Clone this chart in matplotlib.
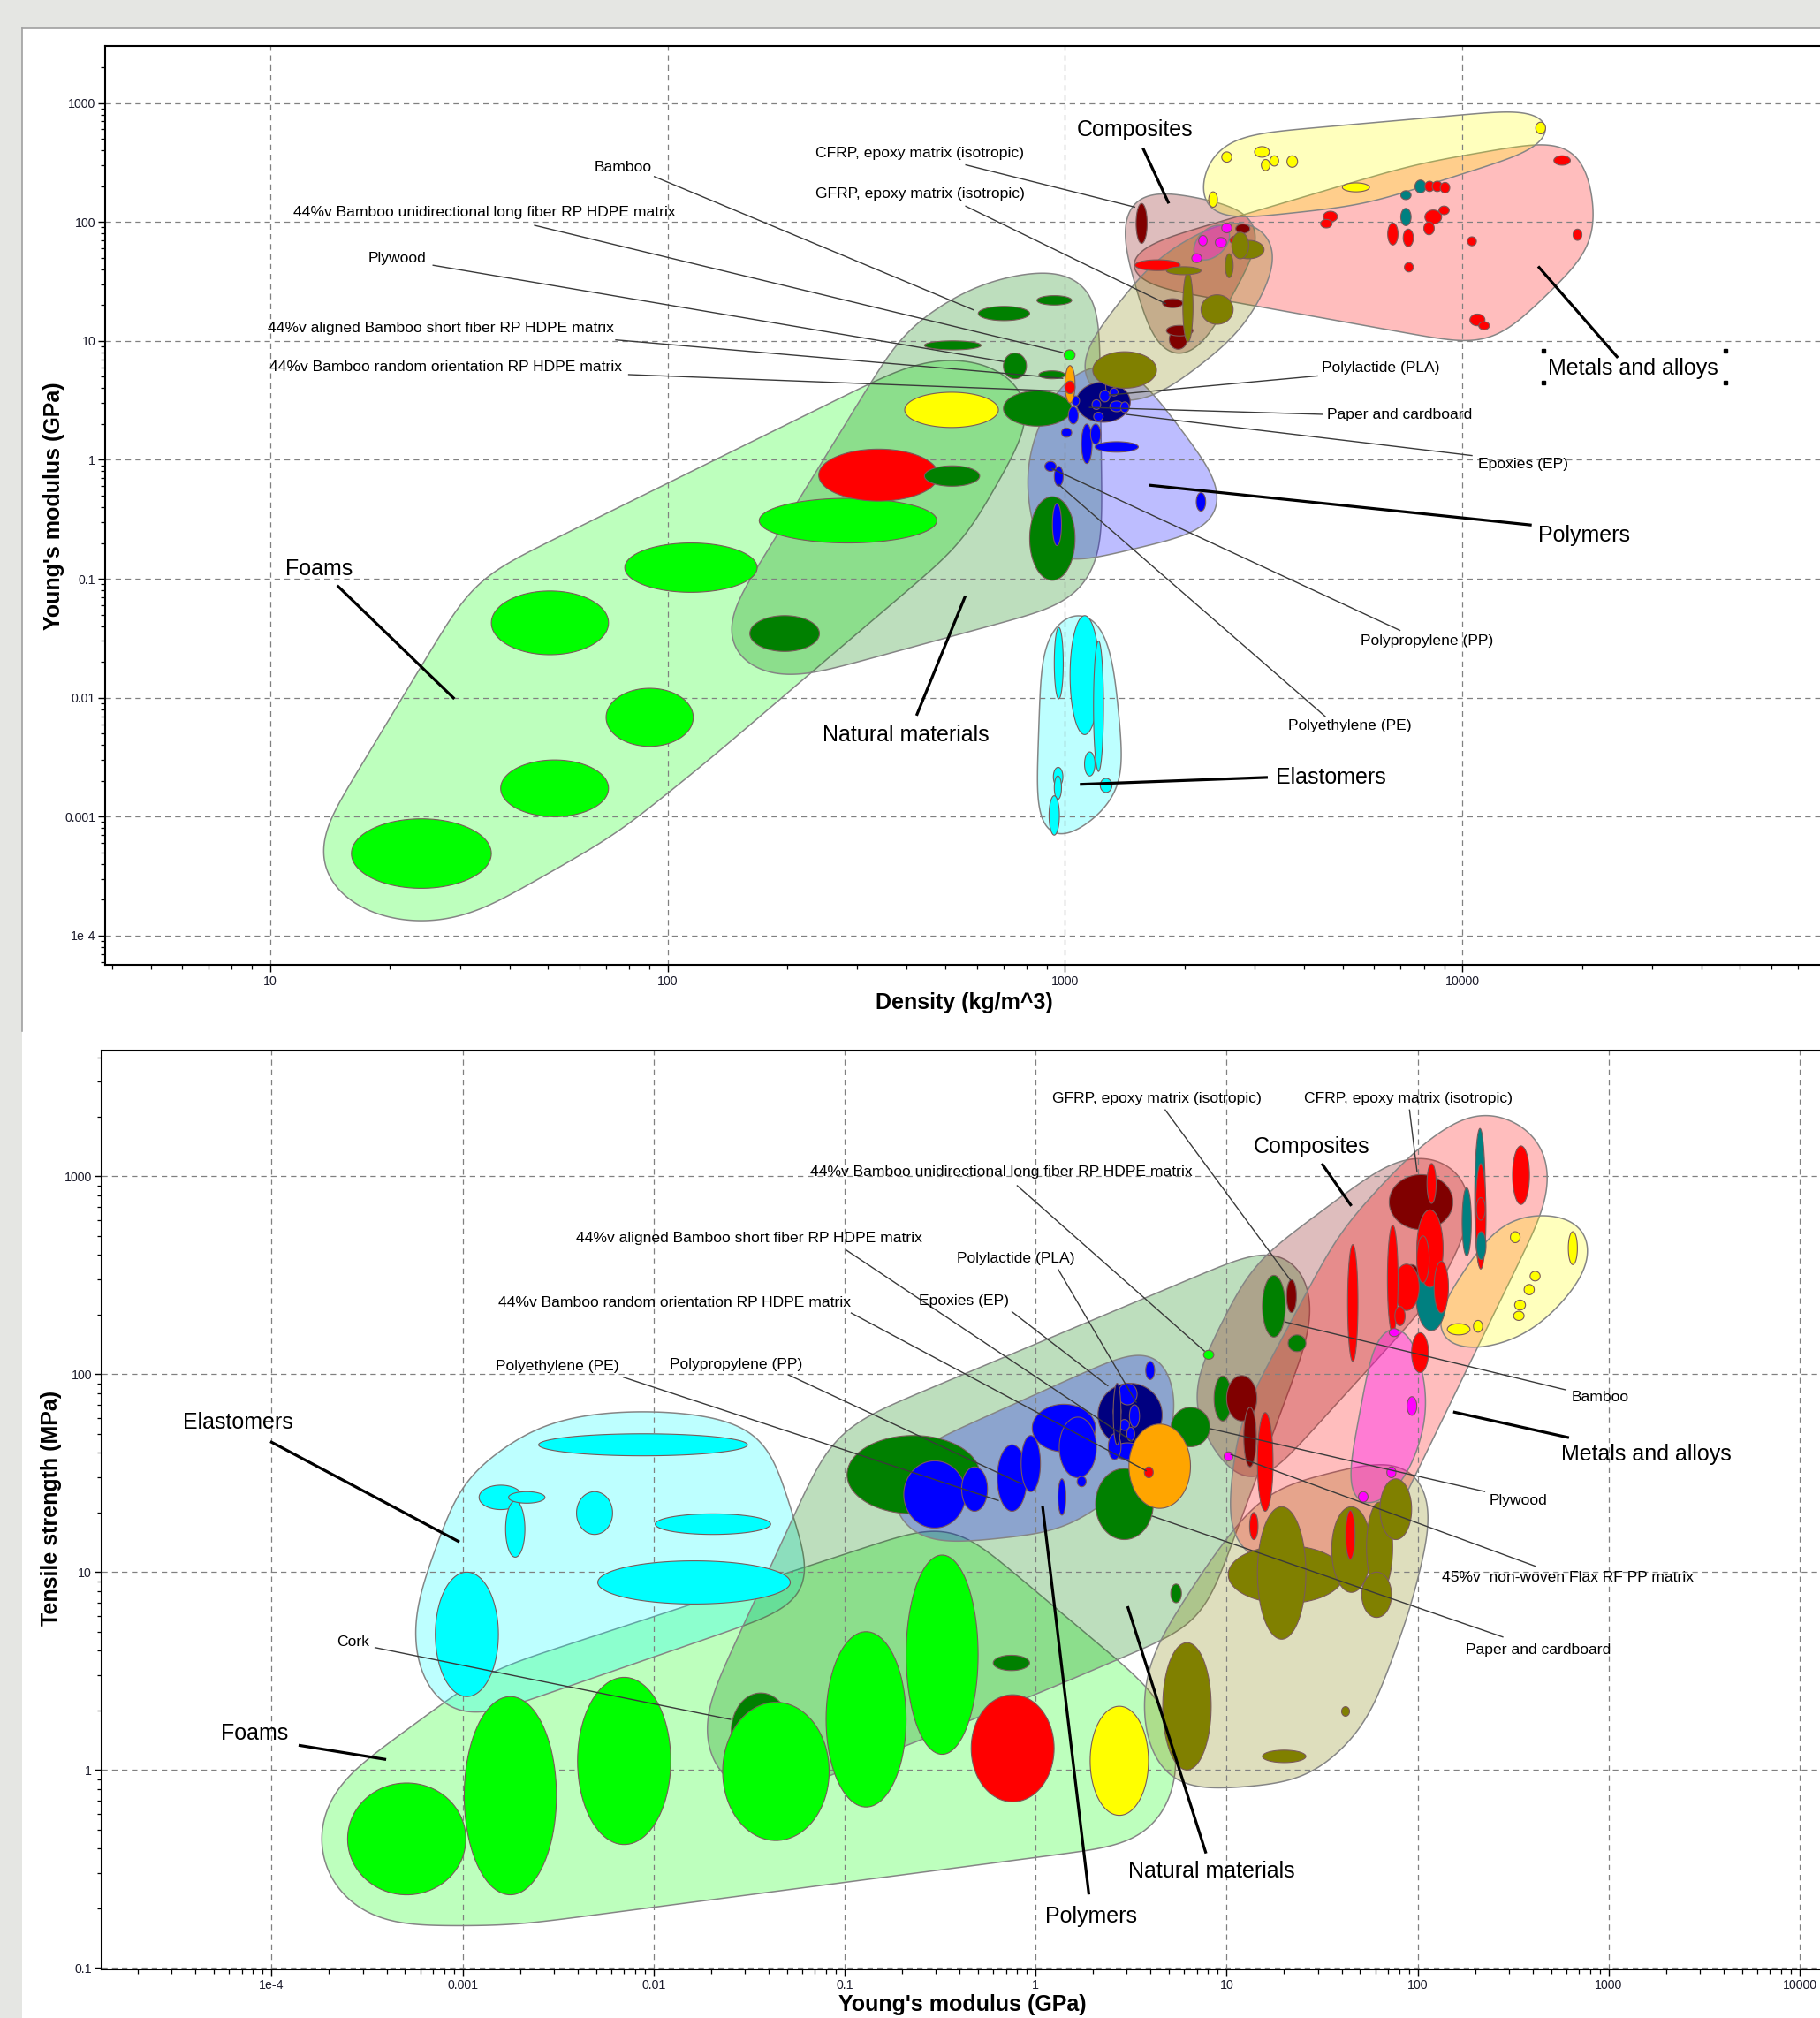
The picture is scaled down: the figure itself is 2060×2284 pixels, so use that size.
import numpy as np
import matplotlib.pyplot as plt
from matplotlib.lines import Line2D
from matplotlib.patches import Rectangle
from matplotlib.colors import to_rgba
from matplotlib.ticker import LogLocator, NullFormatter

plt.rcParams['font.family'] = ['Liberation Sans', 'DejaVu Sans']

# bubbles: (x_lo, x_hi, y_lo, y_hi, kind)
# ---------------- top chart: Young's modulus (GPa) vs density (kg/m^3)
TOP_FOAMS = [
    (16, 36, 2.5e-4, 9.6e-4, 'foam'),
    (38, 71, 1.0e-3, 3.0e-3, 'foam'),
    (70, 116, 3.9e-3, 0.012, 'foam'),
    (36, 71, 0.023, 0.079, 'foam'),
    (78, 168, 0.077, 0.20, 'foam'),
    (170, 476, 0.20, 0.475, 'foam'),
    (240, 480, 0.45, 1.23, 'metal'),
    (395, 680, 1.87, 3.7, 'ceramic'),
]
TOP_NATURAL = [
    (161, 241, 0.0245, 0.049, 'natural'),
    (443, 610, 0.60, 0.89, 'natural'),
    (605, 815, 14.8, 19.5, 'natural'),
    (850, 1040, 20, 24, 'natural'),
    (443, 615, 8.4, 10, 'natural'),
    (860, 1000, 4.8, 5.6, 'natural'),
    (700, 800, 4.8, 7.9, 'natural'),
    (700, 1040, 1.92, 3.8, 'natural'),
    (815, 1060, 0.097, 0.49, 'natural'),
]
TOP_ELASTOMERS = [
    (1030, 1220, 0.0049, 0.049, 'elastomer'),
    (940, 990, 0.0098, 0.039, 'elastomer'),
    (1180, 1250, 0.0024, 0.030, 'elastomer'),
    (1120, 1190, 0.0022, 0.0035, 'elastomer'),
    (1227, 1313, 0.0016, 0.0021, 'elastomer'),
    (935, 988, 0.0018, 0.0026, 'elastomer'),
    (940, 980, 0.0014, 0.0022, 'elastomer'),
    (912, 968, 7.0e-4, 0.0015, 'elastomer'),
]
TOP_POLYMERS = [
    (1067, 1460, 2.07, 4.5, 'epoxy'),
    (1020, 1080, 2.0, 2.8, 'polymer'),
    (1041, 1088, 2.85, 3.44, 'polymer'),
    (980, 1040, 1.55, 1.85, 'polymer'),
    (1100, 1170, 0.93, 2.0, 'polymer'),
    (1160, 1230, 1.35, 2.0, 'polymer'),
    (1190, 1530, 1.16, 1.42, 'polymer'),
    (890, 950, 0.80, 0.97, 'polymer'),
    (940, 990, 0.60, 0.88, 'polymer'),
    (930, 980, 0.19, 0.43, 'polymer'),
    (2140, 2260, 0.37, 0.53, 'polymer'),
    (1266, 1327, 3.53, 4.84, 'epoxy'),
    (1223, 1297, 3.07, 3.85, 'polymer'),
    (1297, 1360, 3.44, 4.0, 'polymer'),
    (1297, 1403, 2.54, 3.12, 'polymer'),
    (1380, 1450, 2.5, 3.07, 'polymer'),
    (1181, 1248, 2.12, 2.51, 'polymer'),
    (1170, 1230, 2.65, 3.2, 'polymer'),
]
TOP_METALS = [
    (1500, 1950, 39, 48, 'metal'),
    (2600, 2880, 64, 77, 'metal'),
    (17000, 18700, 300, 360, 'metal'),
    (19000, 20000, 70, 87, 'metal'),
    (10300, 10850, 63, 75, 'metal'),
    (7150, 7530, 38, 45.5, 'metal'),
    (6490, 6890, 64, 98, 'metal'),
    (7100, 7530, 62, 87, 'metal'),
    (4470, 4850, 100, 123, 'metal'),
    (4400, 4700, 89, 105, 'metal'),
    (8050, 8870, 96, 126, 'metal'),
    (8000, 8500, 78, 100, 'metal'),
    (8730, 9270, 115, 136, 'metal'),
    (7600, 8100, 175, 225, 'copper'),
    (8050, 8500, 180, 220, 'metal'),
    (8400, 8900, 180, 220, 'metal'),
    (8800, 9300, 175, 215, 'metal'),
    (7000, 7430, 154, 183, 'copper'),
    (7000, 7430, 93, 130, 'copper'),
    (10450, 11400, 13.4, 16.8, 'metal'),
    (11000, 11700, 12.4, 14.5, 'metal'),
]
TOP_COMPOSITES = [
    (1510, 1610, 66, 143, 'composite'),
    (1760, 1980, 19, 22.6, 'composite'),
    (1830, 2030, 8.5, 12.5, 'composite'),
    (1800, 2100, 11, 13.5, 'composite'),
    (2690, 2920, 80, 96, 'composite'),
]
TOP_FIBRES = [
    (1175, 1700, 4.0, 8.1, 'fibre'),
    (2200, 2650, 13.8, 24.4, 'fibre'),
    (2650, 3170, 49, 70, 'fibre'),
    (2630, 2900, 49, 82, 'fibre'),
    (2530, 2650, 34, 54, 'fibre'),
    (1980, 2100, 9.8, 38, 'fibre'),
    (1800, 2200, 36, 42, 'fibre'),
]
TOP_CERAMICS = [
    (2480, 2630, 318, 388, 'ceramic'),
    (3000, 3270, 350, 430, 'ceramic'),
    (3120, 3280, 270, 335, 'ceramic'),
    (3280, 3450, 295, 360, 'ceramic'),
    (3620, 3850, 288, 360, 'ceramic'),
    (15300, 16200, 550, 690, 'ceramic'),
    (4990, 5840, 179, 213, 'ceramic'),
    (2300, 2420, 133, 179, 'ceramic'),
]
TOP_GLASS = [
    (2170, 2280, 63, 77, 'glass'),
    (2390, 2550, 61, 74, 'glass'),
    (2480, 2630, 81, 98, 'glass'),
    (2085, 2210, 45.5, 54, 'glass'),
]
TOP_BAMBOO = [
    (995, 1060, 6.9, 8.4, 'bamboo_uni'),
    (1000, 1060, 3.0, 6.2, 'bamboo_short'),
    (1000, 1060, 3.6, 4.6, 'bamboo_rand'),
]

# ---------------- bottom chart: tensile strength (MPa) vs Young's modulus (GPa)
BOT_FOAMS = [
    (2.5e-4, 1.04e-3, 0.234, 0.86, 'foam'),
    (1.02e-3, 3.1e-3, 0.234, 2.35, 'foam'),
    (4.0e-3, 0.0123, 0.42, 2.94, 'foam'),
    (0.0255, 0.052, 1.0, 2.45, 'natural'),
    (0.023, 0.083, 0.44, 2.2, 'foam'),
    (0.08, 0.21, 0.65, 5.0, 'foam'),
    (0.21, 0.50, 1.2, 12.2, 'foam'),
    (0.46, 1.25, 0.69, 2.4, 'metal'),
    (1.93, 3.9, 0.59, 2.1, 'ceramic'),
]
BOT_ELASTOMERS = [
    (2.5e-3, 0.031, 38.7, 50, 'elastomer'),
    (1.22e-3, 2.06e-3, 20.7, 27.5, 'elastomer'),
    (1.68e-3, 2.12e-3, 11.9, 22.9, 'elastomer'),
    (1.74e-3, 2.7e-3, 22.3, 25.5, 'elastomer'),
    (3.95e-3, 6.1e-3, 15.5, 25.5, 'elastomer'),
    (0.0102, 0.041, 15.5, 19.7, 'elastomer'),
    (5.1e-3, 0.052, 6.9, 11.4, 'elastomer'),
    (7.2e-4, 1.54e-3, 2.35, 10, 'elastomer'),
]
BOT_NATURAL = [
    (0.0255, 0.052, 1.0, 2.45, 'natural'),
    (0.103, 0.51, 19.7, 49, 'natural'),
    (2.06, 4.13, 14.6, 33.4, 'natural'),
    (5.13, 8.17, 43, 68, 'natural'),
    (0.60, 0.93, 3.18, 3.8, 'natural'),
    (5.1, 5.8, 7.0, 8.7, 'natural'),
    (8.6, 10.6, 58, 98, 'natural'),
    (15.4, 20.3, 154, 316, 'natural'),
]
BOT_POLYMERS = [
    (2.12, 4.6, 43, 90, 'epoxy'),
    (0.204, 0.43, 16.7, 36.5, 'polymer'),
    (0.41, 0.56, 20.3, 34, 'polymer'),
    (0.63, 0.90, 20.3, 44, 'polymer'),
    (0.84, 1.06, 25.5, 49, 'polymer'),
    (0.96, 2.06, 40.5, 70.5, 'polymer'),
    (1.33, 2.08, 30, 60.7, 'polymer'),
    (1.31, 1.44, 19.4, 29.6, 'polymer'),
    (1.65, 1.84, 27, 30.5, 'polymer'),
    (3.77, 4.2, 94, 116, 'polymer'),
    (2.7, 3.4, 70, 90, 'polymer'),
    (2.55, 2.8, 60, 70, 'polymer'),
    (3.1, 3.5, 54, 70, 'polymer'),
    (2.75, 3.1, 52, 59, 'polymer'),
    (2.55, 3.6, 37, 45, 'polymer'),
    (2.4, 2.8, 37, 50, 'polymer'),
    (3.0, 3.3, 46, 54, 'polymer'),
    (2.55, 2.8, 44, 90, 'epoxy'),
]
BOT_FIBRES = [
    (10.2, 41, 6.95, 13.6, 'fibre'),
    (14.5, 26, 4.58, 21.4, 'fibre'),
    (35.5, 57, 7.9, 21.4, 'fibre'),
    (54, 74, 7.9, 22.6, 'fibre'),
    (63.5, 93, 14.6, 29.6, 'fibre'),
    (51, 73, 5.9, 10, 'fibre'),
    (4.63, 8.3, 1.0, 4.4, 'fibre'),
    (40, 44, 1.87, 2.09, 'fibre'),
    (15.4, 26, 1.09, 1.26, 'fibre'),
]
BOT_COMPOSITES = [
    (71, 153, 538, 1020, 'composite'),
    (84, 102, 284, 358, 'composite'),
    (10, 14.4, 58, 98.5, 'composite'),
    (8.6, 10.6, 58, 98, 'natural'),
    (12.3, 14.3, 34, 68, 'composite'),
    (15.4, 20.3, 154, 316, 'natural'),
    (20.6, 23.2, 205, 300, 'composite'),
    (21, 26, 130, 158, 'natural'),
]
BOT_METALS = [
    (98, 142, 166, 378, 'copper'),
    (112, 125, 730, 1160, 'metal'),
    (99, 136, 275, 677, 'metal'),
    (99, 115, 290, 500, 'metal'),
    (122, 145, 204, 372, 'metal'),
    (75, 102, 210, 360, 'metal'),
    (69.5, 79, 161, 566, 'metal'),
    (76, 86, 176, 220, 'metal'),
    (43, 48.7, 116, 452, 'metal'),
    (14.5, 17.5, 20.3, 64, 'metal'),
    (13.2, 14.6, 14.6, 20, 'metal'),
    (42, 47, 11.6, 20.5, 'metal'),
    (93, 114, 102, 162, 'metal'),
    (199, 226, 349, 1746, 'copper'),
    (171, 191, 396, 875, 'copper'),
    (201, 228, 340, 1160, 'metal'),
    (203, 226, 600, 780, 'metal'),
    (203, 228, 380, 525, 'copper'),
    (314, 385, 721, 1425, 'metal'),
]
BOT_CERAMICS = [
    (306, 344, 462, 525, 'ceramic'),
    (615, 686, 358, 525, 'ceramic'),
    (388, 438, 296, 331, 'ceramic'),
    (361, 408, 252, 284, 'ceramic'),
    (322, 367, 211, 237, 'ceramic'),
    (318, 361, 187, 208, 'ceramic'),
    (196, 219, 163, 187, 'ceramic'),
    (143, 188, 158, 180, 'ceramic'),
]
BOT_GLASS = [
    (71, 80, 155, 170, 'glass'),
    (88, 99, 62, 77, 'glass'),
    (69, 77, 30, 34, 'glass'),
    (49, 55, 22.6, 25.5, 'glass'),
]
BOT_BAMBOO = [
    (7.57, 8.57, 119, 132, 'bamboo_uni'),
    (3.08, 6.47, 21, 56, 'bamboo_short'),
    (3.71, 4.13, 30, 34, 'bamboo_rand'),
    (9.7, 10.8, 36.5, 40.5, 'flax'),
]

# tick values / labels
TOP_XTICKS = [10, 100, 1000, 10000]
TOP_XLABELS = ['10', '100', '1000', '10000']
TOP_YTICKS = [1e-4, 1e-3, 0.01, 0.1, 1, 10, 100, 1000]
TOP_YLABELS = ['1e-4', '0.001', '0.01', '0.1', '1', '10', '100', '1000']
BOT_XTICKS = [1e-4, 1e-3, 0.01, 0.1, 1, 10, 100, 1000, 10000]
BOT_XLABELS = ['1e-4', '0.001', '0.01', '0.1', '1', '10', '100', '1000', '10000']
BOT_YTICKS = [0.1, 1, 10, 100, 1000]
BOT_YLABELS = ['0.1', '1', '10', '100', '1000']

# labels: text, text anchor, alignment, leader start, leader end, big label?
TOP_NOTES = [
    ('Bamboo', (77.2, 288), 'center', (92.3, 241.6), (591, 18.1), False),
    ('44%v Bamboo unidirectional long fiber RP HDPE matrix', (34.5, 120), 'center', (46.1, 93.8), (990, 7.96), False),
    ('Plywood', (20.9, 49.1), 'center', (25.6, 43.3), (702, 6.69), False),
    ('44%v aligned Bamboo short fiber RP HDPE matrix', (26.8, 12.8), 'center', (73.8, 10.2), (990, 4.84), False),
    ('44%v Bamboo random orientation RP HDPE matrix', (27.6, 6.06), 'center', (79.5, 5.21), (1005, 3.77), False),
    ('CFRP, epoxy matrix (isotropic)', (432, 378.5), 'center', (561, 302.6), (1503, 133), False),
    ('GFRP, epoxy matrix (isotropic)', (432, 170.6), 'center', (561, 136.3), (1797, 20.5), False),
    ('Composites', (1503, 593), 'center', (1571, 418), (1825, 143), True),
    ('Metals and alloys', (26950, 5.91), 'center', (24640, 7.21), (15520, 42.3), True),
    ('Polylactide (PLA)', (4433, 5.91), 'left', (4334, 5.08), (1285, 3.5), False),
    ('Paper and cardboard', (4566, 2.41), 'left', (4466, 2.41), (1149, 2.76), False),
    ('Epoxies (EP)', (10930, 0.912), 'left', (10610, 1.085), (1427, 2.41), False),
    ('Polymers', (15520, 0.2317), 'left', (14950, 0.2828), (1631, 0.612), True),
    ('Polypropylene (PP)', (8170, 0.03004), 'center', (6987, 0.03666), (925.4, 0.846), False),
    ('Polyethylene (PE)', (5222, 0.0058), 'center', (4532, 0.0069), (960.5, 0.627), False),
    ('Elastomers', (3388, 0.00214), 'left', (3239, 0.00214), (1090, 0.00187), True),
    ('Natural materials', (398.4, 0.00487), 'center', (423, 0.00708), (561.4, 0.0718), True),
    ('Foams', (13.28, 0.1212), 'center', (14.74, 0.0877), (29.06, 0.00979), True),
]
BOT_NOTES = [
    ('GFRP, epoxy matrix (isotropic)', (4.33, 2455), 'center', (4.75, 2178), (21.7, 297), False),
    ('CFRP, epoxy matrix (isotropic)', (89.2, 2455), 'center', (90.6, 2178), (99.4, 1046), False),
    ('Composites', (27.8, 1411), 'center', (31.5, 1161), (45.0, 708.7), True),
    ('44%v Bamboo unidirectional long fiber RP HDPE matrix', (0.662, 1046), 'center', (0.797, 900.7), (7.68, 130.5), False),
    ('44%v aligned Bamboo short fiber RP HDPE matrix', (0.0316, 487), 'center', (0.1012, 426), (3.22, 45.7), False),
    ('Polylactide (PLA)', (0.785, 383.5), 'center', (1.31, 340), (3.375, 71.7), False),
    ('44%v Bamboo random orientation RP HDPE matrix', (0.01286, 230.5), 'center', (0.1077, 204.5), (3.82, 32.4), False),
    ('Epoxies (EP)', (0.4219, 233.9), 'center', (0.749, 207.5), (2.4, 87.1), False),
    ('Polyethylene (PE)', (3.13e-3, 109), 'center', (6.91e-3, 96.7), (0.642, 22.96), False),
    ('Polypropylene (PP)', (0.0271, 112.3), 'center', (0.0504, 99.6), (0.848, 27.9), False),
    ('Bamboo', (639.7, 76.1), 'left', (601, 83.2), (20.1, 184), False),
    ('Metals and alloys', (565, 39.4), 'left', (620, 47.8), (153.5, 64.5), True),
    ('Plywood', (237, 22.96), 'left', (226, 25.5), (8.17, 53.1), False),
    ('45%v  non-woven Flax RF PP matrix', (133.5, 9.35), 'left', (414.3, 10.7), (10.47, 39.4), False),
    ('Paper and cardboard', (179.2, 4.04), 'left', (281.1, 4.69), (4.07, 19.2), False),
    ('Natural materials', (8.3, 0.3075), 'center', (7.8, 0.379), (3.03, 6.72), True),
    ('Polymers', (1.96, 0.182), 'center', (1.901, 0.2348), (1.087, 21.6), True),
    ('Elastomers', (6.68e-5, 57.3), 'center', (9.85e-5, 45.7), (9.63e-4, 14.2), True),
    ('Foams', (8.18e-5, 1.527), 'center', (1.385e-4, 1.334), (3.98e-4, 1.13), True),
    ('Cork', (2.66e-4, 4.42), 'center', (3.46e-4, 4.16), (0.02544, 1.8), False),
]

# styles
KIND_COLORS = {
    'foam': '#00ff00', 'natural': '#008000', 'elastomer': '#00ffff',
    'polymer': '#0000ff', 'epoxy': '#000080', 'metal': '#ff0000',
    'copper': '#008080', 'composite': '#800000', 'fibre': '#808000',
    'ceramic': '#ffff00', 'glass': '#ff00ff', 'bamboo_uni': '#00ff00',
    'bamboo_short': '#ffa500', 'bamboo_rand': '#ff0000', 'flax': '#ff00ff',
}
ENV_COLORS = {
    'foams': '#00ff00', 'natural': '#008000', 'elastomers': '#00ffff',
    'polymers': '#0000ff', 'metals': '#ff0000', 'composites': '#800000',
    'fibres': '#808000', 'ceramics': '#ffff00', 'glass': '#ff00ff',
}
ENV_ALPHA = {'glass': 0.34}
TOP_PADS = {'foams': 40, 'natural': 31, 'elastomers': 15, 'polymers': 24,
            'metals': 19, 'composites': 19, 'fibres': 21, 'ceramics': 16, 'glass': 12}
BOT_PADS = {'foams': 35, 'natural': 33, 'elastomers': 26, 'polymers': 19,
            'metals': 26, 'composites': 26, 'fibres': 24, 'ceramics': 21, 'glass': 16}


def ellipse_px(ax, b, pad=0.0, n=90):
    (x0, y0), (x1, y1) = ax.transData.transform([(b[0], b[2]), (b[1], b[3])])
    cx, cy = (x0 + x1) / 2, (y0 + y1) / 2
    rx, ry = abs(x1 - x0) / 2 + pad, abs(y1 - y0) / 2 + pad
    t = np.linspace(0, 2 * np.pi, n, endpoint=False)
    return np.column_stack([cx + rx * np.cos(t), cy + ry * np.sin(t)])


def to_data(ax, pts):
    d = ax.transData.inverted().transform(pts)
    return d[:, 0], d[:, 1]


def convex_hull(pts):
    p = sorted(map(tuple, pts))

    def cross(o, a, b):
        return (a[0] - o[0]) * (b[1] - o[1]) - (a[1] - o[1]) * (b[0] - o[0])
    lower, upper = [], []
    for q in p:
        while len(lower) >= 2 and cross(lower[-2], lower[-1], q) <= 0:
            lower.pop()
        lower.append(q)
    for q in reversed(p):
        while len(upper) >= 2 and cross(upper[-2], upper[-1], q) <= 0:
            upper.pop()
        upper.append(q)
    return np.array(lower[:-1] + upper[:-1])


def smooth_closed(poly, step=2.0, sigma=34.0):
    # resample the outline evenly and blur it so hull corners become round
    pts = np.vstack([poly, poly[:1]])
    seg = np.hypot(*np.diff(pts, axis=0).T)
    s = np.concatenate([[0], np.cumsum(seg)])
    n = max(int(s[-1] / step), 16)
    u = np.linspace(0, s[-1], n, endpoint=False)
    x = np.interp(u, s, pts[:, 0])
    y = np.interp(u, s, pts[:, 1])
    k = min(int(3 * sigma / step), n // 2 - 1)
    w = np.exp(-0.5 * (np.arange(-k, k + 1) * step / sigma) ** 2)
    w /= w.sum()
    xs = np.convolve(np.concatenate([x[-k:], x, x[:k]]), w, mode='valid')
    ys = np.convolve(np.concatenate([y[-k:], y, y[:k]]), w, mode='valid')
    return np.column_stack([xs, ys])


def make_axes(fig, rect, xlim, ylim, xt, xtl, yt, ytl):
    ax = fig.add_axes(rect)
    ax.set_xscale('log')
    ax.set_yscale('log')
    ax.set_xlim(xlim)
    ax.set_ylim(ylim)
    ax.set_xticks(xt, xtl)
    ax.set_yticks(yt, ytl)
    for axis in (ax.xaxis, ax.yaxis):
        axis.set_minor_locator(LogLocator(base=10, subs=np.arange(2, 10), numticks=100))
        axis.set_minor_formatter(NullFormatter())
    ax.tick_params(which='major', length=6, width=1.0, labelsize=10.2,
                   direction='out', pad=2, labelcolor='#1a1a2a')
    ax.tick_params(which='minor', length=3.5, width=0.9, direction='out')
    ax.grid(True, which='major', color='#808080', lw=0.9, ls=(0, (5, 4)))
    ax.set_axisbelow('line')
    ax.spines['right'].set_visible(False)
    for s in ax.spines.values():
        s.set_linewidth(1.5)
    ax.set_facecolor('none')
    return ax


def draw_chart(ax, families, pads, notes):
    # envelopes first
    for name, bubbles in families:
        if name not in ENV_COLORS:
            continue
        pts = np.vstack([ellipse_px(ax, b, pads[name], 48) for b in bubbles])
        outline = smooth_closed(convex_hull(pts))
        x, y = to_data(ax, outline)
        ax.fill(x, y, facecolor=to_rgba(ENV_COLORS[name], ENV_ALPHA.get(name, 0.26)),
                edgecolor='#858585', lw=1.1, zorder=1)
    # then the bubbles
    drawn = set()
    for name, bubbles in families:
        for b in bubbles:
            if b in drawn:
                continue
            drawn.add(b)
            x, y = to_data(ax, ellipse_px(ax, b))
            ax.fill(x, y, facecolor=KIND_COLORS[b[4]], edgecolor='#7a5a5a',
                    lw=0.8, zorder=2)
    # labels and leader lines
    for text, (tx, ty), ha, (sx, sy), (ex, ey), big in notes:
        ax.plot([sx, ex], [sy, ey], color='black' if big else '#3a3a3a',
                lw=2.3 if big else 1.0, zorder=4, solid_capstyle='butt')
        ax.text(tx, ty, text, ha=ha, va='center', fontsize=18 if big else 12.6,
                color='black', zorder=5)


fig = plt.figure(figsize=(20.6, 22.84), dpi=100, facecolor='#e5e6e3')

# white sheets behind the two charts
fig.add_artist(Rectangle((0.012, 0.0), 1.0, 0.986, transform=fig.transFigure,
                         facecolor='white', edgecolor='none', zorder=-2))
fig.add_artist(Line2D([0.012, 1.0], [0.986, 0.986], transform=fig.transFigure,
                      color='#a0a0a0', lw=1.2))
fig.add_artist(Line2D([0.012, 0.012], [0.489, 0.986], transform=fig.transFigure,
                      color='#a0a0a0', lw=1.2))

ax1 = make_axes(fig, [0.05799, 0.52168, 0.94413, 0.45536], (3.849, 81270), (5.637e-5, 2993),
                TOP_XTICKS, TOP_XLABELS, TOP_YTICKS, TOP_YLABELS)
ax2 = make_axes(fig, [0.05587, 0.02423, 0.94625, 0.45536], (1.29e-5, 13390), (0.0986, 4338),
                BOT_XTICKS, BOT_XLABELS, BOT_YTICKS, BOT_YLABELS)

top_families = [
    ('foams', TOP_FOAMS), ('natural', TOP_NATURAL), ('elastomers', TOP_ELASTOMERS),
    ('polymers', TOP_POLYMERS), ('metals', TOP_METALS), ('composites', TOP_COMPOSITES),
    ('fibres', TOP_FIBRES), ('ceramics', TOP_CERAMICS), ('glass', TOP_GLASS),
    ('bamboo', TOP_BAMBOO),
]
bot_families = [
    ('foams', BOT_FOAMS), ('elastomers', BOT_ELASTOMERS), ('natural', BOT_NATURAL),
    ('polymers', BOT_POLYMERS), ('fibres', BOT_FIBRES), ('composites', BOT_COMPOSITES),
    ('metals', BOT_METALS), ('ceramics', BOT_CERAMICS), ('glass', BOT_GLASS),
    ('bamboo', BOT_BAMBOO),
]
draw_chart(ax1, top_families, TOP_PADS, TOP_NOTES)
draw_chart(ax2, bot_families, BOT_PADS, BOT_NOTES)

# selection handles around "Metals and alloys" (top chart)
ax1.plot([0.8367, 0.9427, 0.8367, 0.9427], [0.6688, 0.6688, 0.6345, 0.6345], 's',
         color='black', ms=3, transform=ax1.transAxes, zorder=6, clip_on=False)

fig.text(0.5297, 0.5032, 'Density (kg/m^3)', ha='center', va='center',
         fontsize=18, fontweight='bold')
fig.text(0.0297, 0.7494, "Young's modulus (GPa)", ha='center', va='center',
         fontsize=18, fontweight='bold', rotation=90)
fig.text(0.529, 0.0066, "Young's modulus (GPa)", ha='center', va='center',
         fontsize=18, fontweight='bold')
fig.text(0.0283, 0.2526, 'Tensile strength (MPa)', ha='center', va='center',
         fontsize=18, fontweight='bold', rotation=90)

fig.savefig('out.png', dpi=100, facecolor=fig.get_facecolor())
